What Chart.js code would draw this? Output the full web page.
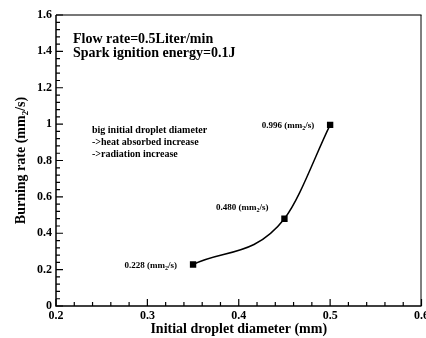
<!DOCTYPE html>
<html>
<head>
<meta charset="utf-8">
<script src="https://cdn.jsdelivr.net/npm/chart.js@4.4.1/dist/chart.umd.min.js"></script>
<style>
  html, body { margin: 0; padding: 0; background: #fff; }
  #wrap { width: 426px; height: 338px; }
</style>
</head>
<body>
<div id="wrap"><canvas id="burnChart" width="426" height="338"></canvas></div>
<script>
// data
var diameters = [0.35, 0.45, 0.5];
var burningRates = [0.228, 0.480, 0.996];
var rateLabels = ['0.228', '0.480', '0.996'];
var xTicks = [0.2, 0.3, 0.4, 0.5, 0.6];
var xTickLabels = ['0.2', '0.3', '0.4', '0.5', '0.6'];
var yTicks = [0, 0.2, 0.4, 0.6, 0.8, 1, 1.2, 1.4, 1.6];
var yTickLabels = ['0', '0.2', '0.4', '0.6', '0.8', '1', '1.2', '1.4', '1.6'];
var noteLines = ['big initial droplet diameter', '->heat absorbed increase', '->radiation increase'];

var serif = "'Liberation Serif', 'Times New Roman', serif";

// text with a subscript "2" in (mm2/s)
function subText(ctx, pre, sub, post, x, y, size, align) {
  ctx.font = 'bold ' + size + 'px ' + serif;
  var w1 = ctx.measureText(pre).width;
  var w3 = ctx.measureText(post).width;
  ctx.font = 'bold ' + Math.round(size * 0.65) + 'px ' + serif;
  var w2 = ctx.measureText(sub).width;
  var total = w1 + w2 + w3;
  var sx = align === 'right' ? x - total : (align === 'center' ? x - total / 2 : x);
  ctx.textAlign = 'left';
  ctx.textBaseline = 'alphabetic';
  ctx.font = 'bold ' + size + 'px ' + serif;
  ctx.fillText(pre, sx, y);
  ctx.font = 'bold ' + Math.round(size * 0.65) + 'px ' + serif;
  ctx.fillText(sub, sx + w1, y + size * 0.22);
  ctx.font = 'bold ' + size + 'px ' + serif;
  ctx.fillText(post, sx + w1 + w2, y);
}

var decor = {
  id: 'decor',
  afterDraw: function(chart) {
    var ctx = chart.ctx, a = chart.chartArea;
    var xs = chart.scales.x, ys = chart.scales.y;
    ctx.save();
    ctx.fillStyle = '#000';

    // frame
    ctx.strokeStyle = '#777';
    ctx.lineWidth = 2;
    ctx.beginPath(); ctx.moveTo(a.left, a.top); ctx.lineTo(a.right, a.top); ctx.stroke();
    ctx.strokeStyle = '#000';
    ctx.lineWidth = 1;
    ctx.beginPath(); ctx.moveTo(a.right - 0.5, a.top); ctx.lineTo(a.right - 0.5, a.bottom); ctx.stroke();
    ctx.lineWidth = 1.5;
    ctx.beginPath();
    ctx.moveTo(a.left, a.top); ctx.lineTo(a.left, a.bottom); ctx.lineTo(a.right, a.bottom);
    ctx.stroke();

    // inward ticks, 4 minor ticks between majors
    ctx.lineWidth = 1.2;
    ctx.beginPath();
    for (var i = 0; i < xTicks.length; i++) {
      var px = xs.getPixelForValue(xTicks[i]);
      ctx.moveTo(px, a.bottom); ctx.lineTo(px, a.bottom - 7);
      if (i < xTicks.length - 1) {
        for (var k = 1; k < 5; k++) {
          var mx = xs.getPixelForValue(xTicks[i] + (xTicks[i + 1] - xTicks[i]) * k / 5);
          ctx.moveTo(mx, a.bottom); ctx.lineTo(mx, a.bottom - 4);
        }
      }
    }
    for (var j = 0; j < yTicks.length; j++) {
      var py = ys.getPixelForValue(yTicks[j]);
      ctx.moveTo(a.left, py); ctx.lineTo(a.left + 7, py);
      if (j < yTicks.length - 1) {
        for (var m = 1; m < 5; m++) {
          var my = ys.getPixelForValue(yTicks[j] + (yTicks[j + 1] - yTicks[j]) * m / 5);
          ctx.moveTo(a.left, my); ctx.lineTo(a.left + 4, my);
        }
      }
    }
    ctx.stroke();

    // point labels
    for (var p = 0; p < diameters.length; p++) {
      var lx = xs.getPixelForValue(diameters[p]) - 16;
      var ly = ys.getPixelForValue(burningRates[p]);
      var dy = p === 1 ? -9 : 3;
      subText(ctx, rateLabels[p] + ' (mm', '2', '/s)', lx, ly + dy, 9, 'right');
    }

    // conditions
    ctx.textAlign = 'left';
    ctx.textBaseline = 'alphabetic';
    ctx.font = 'bold 14px ' + serif;
    ctx.fillText('Flow rate=0.5Liter/min', 73, 43);
    ctx.fillText('Spark ignition energy=0.1J', 73, 57);

    ctx.font = 'bold 10px ' + serif;
    ctx.textBaseline = 'middle';
    for (var n = 0; n < noteLines.length; n++) {
      ctx.fillText(noteLines[n], 92, 130 + n * 12);
    }

    // axis titles
    ctx.textBaseline = 'alphabetic';
    ctx.font = 'bold 14px ' + serif;
    ctx.textAlign = 'center';
    ctx.fillText('Initial droplet diameter (mm)', (a.left + a.right) / 2, 333);

    ctx.translate(25, (a.top + a.bottom) / 2);
    ctx.rotate(-Math.PI / 2);
    subText(ctx, 'Burning rate (mm', '2', '/s)', 0, 0, 14, 'center');
    ctx.restore();
  }
};

var ctx = document.getElementById('burnChart').getContext('2d');

var burnChart = new Chart(ctx, {
  type: 'line',
  data: {
    labels: diameters,
    datasets: [{
      data: diameters.map(function(d, i) { return { x: d, y: burningRates[i] }; }),
      borderColor: '#000',
      borderWidth: 1.5,
      backgroundColor: '#000',
      pointStyle: 'rect',
      pointRadius: 4.5,
      pointHoverRadius: 4.5,
      pointBorderWidth: 0,
      cubicInterpolationMode: 'monotone',
      fill: false
    }]
  },
  options: {
    responsive: false,
    animation: false,
    layout: { padding: { top: 15, right: 2, left: 0, bottom: 0 } },
    plugins: { legend: { display: false }, tooltip: { enabled: false } },
    scales: {
      x: {
        type: 'linear',
        min: 0.2, max: 0.6,
        grid: { display: false, drawTicks: false },
        border: { display: false },
        afterBuildTicks: function(s) { s.ticks = xTicks.map(function(v) { return { value: v }; }); },
        ticks: {
          padding: 3,
          color: '#000',
          font: { family: serif, weight: 'bold', size: 12 },
          maxRotation: 0,
          autoSkip: false,
          callback: function(v) { return xTickLabels[xTicks.indexOf(v)]; }
        },
        afterFit: function(s) { s.height = 32; s.paddingLeft = 0; s.paddingRight = 0; }
      },
      y: {
        min: 0, max: 1.6,
        grid: { display: false, drawTicks: false },
        border: { display: false },
        afterBuildTicks: function(s) { s.ticks = yTicks.map(function(v) { return { value: v }; }); },
        ticks: {
          padding: 4,
          color: '#000',
          font: { family: serif, weight: 'bold', size: 12 },
          autoSkip: false,
          callback: function(v) { return yTickLabels[yTicks.indexOf(v)]; }
        },
        afterFit: function(s) { s.width = 56; s.paddingTop = 0; s.paddingBottom = 0; }
      }
    }
  },
  plugins: [decor]
});
</script>
</body>
</html>
